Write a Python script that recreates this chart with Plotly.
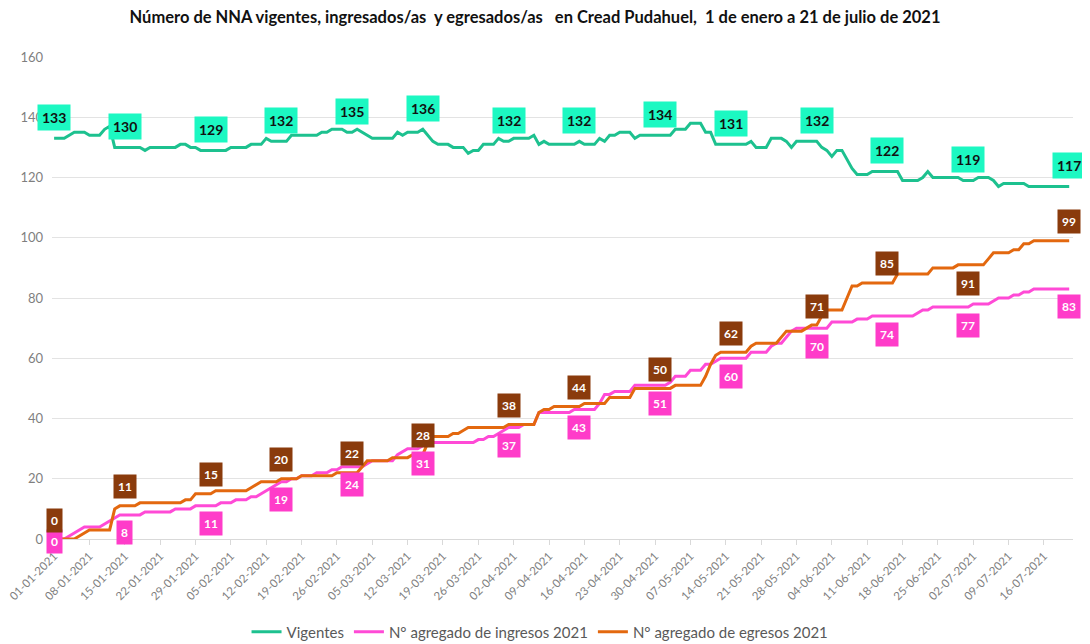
import pandas as pd
import plotly.graph_objects as go

# ---------------- data ----------------
start_date = "2021-01-01"
end_date = "2021-07-21"

vigentes = [
    133,133,133,134,135,135,135,134,134,134,
    136,137,130,130,130,130,130,130,129,130,
    130,130,130,130,130,131,131,130,130,129,
    129,129,129,129,129,130,130,130,130,131,
    131,131,133,132,132,132,132,134,134,134,
    134,134,134,135,135,136,136,136,135,135,
    136,135,134,133,133,133,133,133,135,134,
    135,135,135,136,134,132,131,131,131,130,
    130,130,128,129,129,131,131,131,133,132,
    132,133,133,133,133,134,131,132,131,131,
    131,131,131,131,132,131,131,131,133,132,
    134,134,135,135,135,133,134,134,134,134,
    134,134,134,136,136,136,138,138,138,135,
    135,131,131,131,131,131,131,131,132,130,
    130,130,133,133,133,132,130,132,132,132,
    132,132,130,129,127,129,129,126,123,121,
    121,121,122,122,122,122,122,122,119,119,
    119,119,120,122,120,120,120,120,120,120,
    119,119,119,120,120,120,119,117,118,118,
    118,118,118,117,117,117,117,117,117,117,
    117,117,
]

ingresos = [
    0,0,0,1,2,3,4,4,4,4,
    5,6,7,8,8,8,8,8,9,9,
    9,9,9,9,10,10,10,10,11,11,
    11,11,11,12,12,12,13,13,13,14,
    14,15,16,17,18,19,19,20,20,21,
    21,21,22,22,22,23,23,24,24,24,
    24,24,25,26,26,26,26,26,28,29,
    30,30,30,31,31,32,32,32,32,32,
    32,32,32,32,33,33,34,34,35,36,
    37,37,37,38,38,38,42,42,42,42,
    42,42,42,43,43,43,43,43,45,48,
    48,49,49,49,49,51,51,51,51,51,
    51,51,52,54,54,54,56,56,56,58,
    58,59,60,60,60,60,60,60,62,62,
    62,62,64,65,65,67,69,70,70,70,
    70,70,70,70,72,72,72,72,72,73,
    73,73,74,74,74,74,74,74,74,74,
    74,75,76,76,77,77,77,77,77,77,
    77,77,78,78,78,78,79,80,80,80,
    81,81,82,82,83,83,83,83,83,83,
    83,83,
]

egresos = [
    0,0,0,0,0,1,2,3,3,3,
    3,3,10,11,11,11,11,12,12,12,
    12,12,12,12,12,12,13,13,15,15,
    15,15,16,16,16,16,16,16,16,17,
    18,19,19,19,19,20,20,20,20,21,
    21,21,21,21,21,21,22,22,22,22,
    22,24,26,26,26,26,26,27,27,27,
    27,28,28,28,32,34,34,34,34,35,
    35,36,37,37,37,37,37,37,37,37,
    38,38,38,38,38,38,42,43,43,44,
    44,44,44,44,44,45,45,45,45,45,
    47,47,47,47,47,50,50,50,50,50,
    50,50,50,51,51,51,51,51,51,54,
    58,61,62,62,62,62,62,62,64,65,
    65,65,65,65,67,69,69,69,69,70,
    71,71,74,76,76,76,76,80,84,84,
    85,85,85,85,85,85,85,88,88,88,
    88,88,88,88,90,90,90,90,90,91,
    91,91,91,91,91,93,95,95,95,95,
    96,96,98,98,99,99,99,99,99,99,
    99,99,
]

label_dates = [
    "2021-01-01", "2021-01-15", "2021-02-01", "2021-02-15", "2021-03-01",
    "2021-03-15", "2021-04-01", "2021-04-15", "2021-05-01", "2021-05-15",
    "2021-06-01", "2021-06-15", "2021-07-01", "2021-07-21",
]
# egresos labels drawn below the line instead of above
egresos_below = ["2021-07-01"]

series_names = ["Vigentes", "N° agregado de ingresos 2021", "N° agregado de egresos 2021"]
title_text = ("Número de NNA vigentes, ingresados/as  y egresados/as   en Cread Pudahuel,  "
              "1 de enero a 21 de julio de 2021")

# ---------------- figure ----------------
dates = pd.date_range(start_date, end_date, freq="D")
tick_dates = pd.date_range(start_date, end_date, freq="7D")

FONT = "Lato"
c_vig, c_ing, c_egr = "#1DC18F", "#FF4AD6", "#E3680F"
bg_vig, bg_ing, bg_egr = "#1CF8C2", "#FF3CC9", "#8A3B0C"

fig = go.Figure()
fig.add_trace(go.Scatter(x=dates, y=vigentes, mode="lines", name=series_names[0],
                         line=dict(color=c_vig, width=3)))
fig.add_trace(go.Scatter(x=dates, y=ingresos, mode="lines", name=series_names[1],
                         line=dict(color=c_ing, width=3)))
fig.add_trace(go.Scatter(x=dates, y=egresos, mode="lines", name=series_names[2],
                         line=dict(color=c_egr, width=3)))

t0 = pd.Timestamp(start_date)
for d in label_dates:
    i = (pd.Timestamp(d) - t0).days
    fig.add_annotation(x=d, y=vigentes[i], text="<b>%d</b>" % vigentes[i], showarrow=False,
                       bgcolor=bg_vig, borderpad=4, yshift=21,
                       font=dict(family=FONT, size=14, color="#111111"))
    fig.add_annotation(x=d, y=ingresos[i], text="<b>%d</b>" % ingresos[i], showarrow=False,
                       bgcolor=bg_ing, borderpad=4, yshift=(-2 if i == 0 else -18),
                       font=dict(family=FONT, size=12, color="white"))
    fig.add_annotation(x=d, y=egresos[i], text="<b>%d</b>" % egresos[i], showarrow=False,
                       bgcolor=bg_egr, borderpad=4,
                       yshift=(-19 if d in egresos_below else 19),
                       font=dict(family=FONT, size=12, color="white"))

fig.update_layout(
    width=1090, height=644,
    paper_bgcolor="white", plot_bgcolor="white",
    margin=dict(l=44, r=25, t=49, b=113, autoexpand=False),
    font=dict(family=FONT, color="#7F7F7F"),
    title=dict(text="<b>" + title_text + "</b>", x=0.4835, xanchor="center",
               y=0.986, yanchor="middle",
               font=dict(family=FONT, size=16.5, color="#111111")),
    showlegend=True,
    legend=dict(orientation="h", x=0.478, xanchor="center", y=-0.193, yanchor="middle",
                font=dict(family=FONT, size=15, color="#595959"), itemwidth=30),
    xaxis=dict(
        type="date",
        range=["2020-12-31 14:00", "2021-07-21 18:00"],
        tickvals=list(tick_dates),
        ticktext=[t.strftime("%d-%m-%Y") for t in tick_dates],
        tickangle=-45,
        ticklabeloverflow="allow",
        tickfont=dict(family=FONT, size=11.5, color="#7F7F7F"),
        showgrid=False, zeroline=False,
        showline=True, linecolor="#D9D9D9", linewidth=1,
        ticks="outside", ticklen=5, tickcolor="#D9D9D9",
    ),
    yaxis=dict(
        range=[0, 160], tickvals=[0, 20, 40, 60, 80, 100, 120, 140, 160],
        tickfont=dict(family=FONT, size=13, color="#7F7F7F"),
        showgrid=True, gridcolor="#E3E3E3", gridwidth=1,
        zeroline=False, showline=False, ticks="", ticklabelstandoff=8,
    ),
)

fig.write_html("out.html")
